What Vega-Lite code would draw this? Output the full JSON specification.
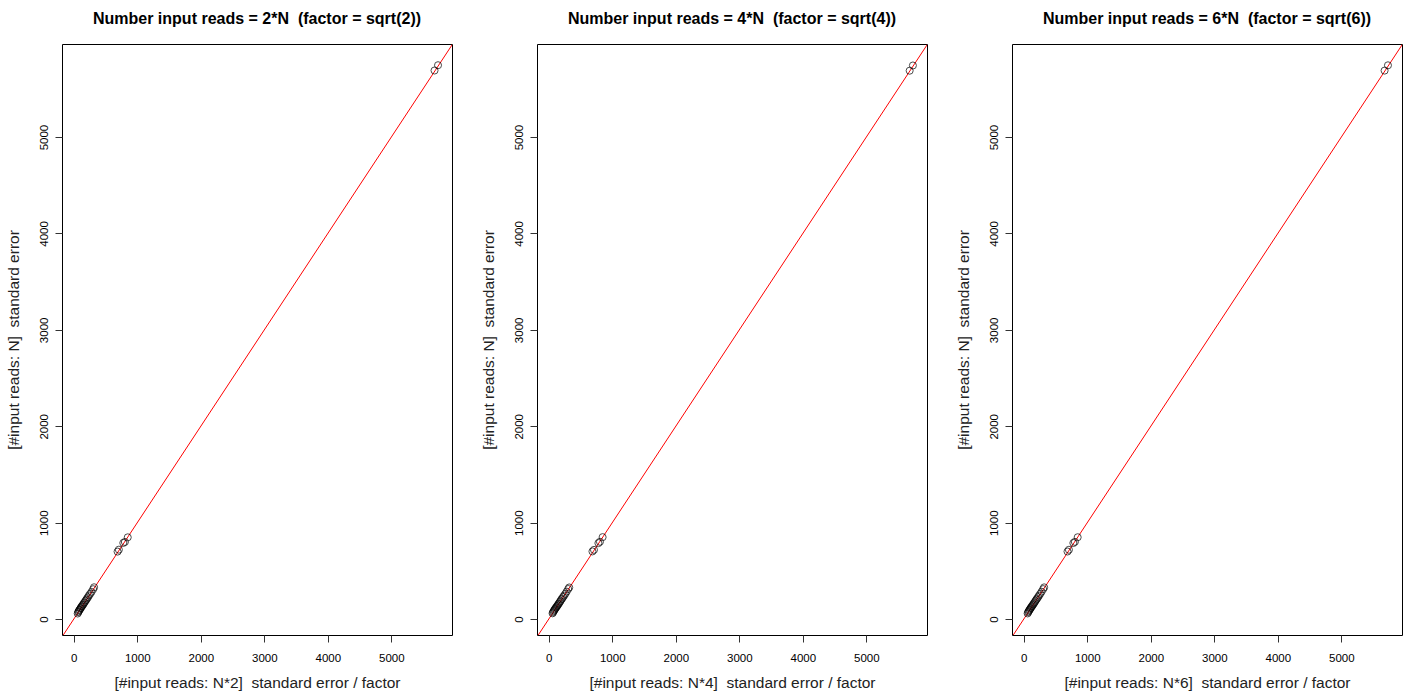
{
  "$schema": "https://vega.github.io/schema/vega-lite/v6.json",
  "padding": {"left": 5, "top": 10, "right": 5, "bottom": 5},
  "background": "white",
  "spacing": 27,
  "config": {
    "view": {"stroke": "black", "strokeWidth": 1},
    "font": "Liberation Sans",
    "axis": {
      "grid": false, "domain": false, "tickColor": "#333", "tickSize": 7, "tickWidth": 1,
      "labelFont": "Liberation Sans", "labelFontSize": 11.5, "labelColor": "#000",
      "titleFont": "Liberation Sans", "titleFontSize": 15.5, "titleFontWeight": "normal", "titleColor": "#222",
      "labelPadding": 10, "titlePadding": 12
    },
    "axisY": {"labelAngle": 270, "labelAlign": "center", "labelBaseline": "bottom", "labelPadding": 6, "titlePadding": 17},
    "title": {"font": "Liberation Sans", "fontSize": 16, "fontWeight": "bold", "color": "#000", "offset": 17}
  },
  "datasets": {
    "p2": [
      {"x": 62, "y": 58}, {"x": 70, "y": 72}, {"x": 78, "y": 80}, {"x": 85, "y": 92}, {"x": 95, "y": 98},
      {"x": 104, "y": 110}, {"x": 112, "y": 115}, {"x": 120, "y": 128}, {"x": 130, "y": 134}, {"x": 140, "y": 146},
      {"x": 150, "y": 152}, {"x": 160, "y": 166}, {"x": 172, "y": 175}, {"x": 185, "y": 190}, {"x": 198, "y": 200},
      {"x": 210, "y": 215}, {"x": 225, "y": 228}, {"x": 240, "y": 245}, {"x": 258, "y": 262}, {"x": 280, "y": 282},
      {"x": 305, "y": 310}, {"x": 320, "y": 330},
      {"x": 690, "y": 700}, {"x": 710, "y": 720}, {"x": 780, "y": 790}, {"x": 805, "y": 800}, {"x": 850, "y": 848},
      {"x": 5680, "y": 5690}, {"x": 5735, "y": 5745}
    ],
    "p4": [
      {"x": 60, "y": 60}, {"x": 68, "y": 70}, {"x": 76, "y": 82}, {"x": 86, "y": 90}, {"x": 94, "y": 100},
      {"x": 102, "y": 108}, {"x": 112, "y": 118}, {"x": 122, "y": 126}, {"x": 132, "y": 136}, {"x": 142, "y": 144},
      {"x": 152, "y": 156}, {"x": 162, "y": 164}, {"x": 174, "y": 178}, {"x": 186, "y": 188}, {"x": 198, "y": 204},
      {"x": 212, "y": 214}, {"x": 226, "y": 230}, {"x": 242, "y": 244}, {"x": 260, "y": 262}, {"x": 282, "y": 285},
      {"x": 306, "y": 312}, {"x": 322, "y": 328},
      {"x": 688, "y": 702}, {"x": 712, "y": 718}, {"x": 782, "y": 788}, {"x": 806, "y": 802}, {"x": 848, "y": 850},
      {"x": 5682, "y": 5688}, {"x": 5733, "y": 5742}
    ],
    "p6": [
      {"x": 61, "y": 59}, {"x": 69, "y": 71}, {"x": 77, "y": 81}, {"x": 86, "y": 91}, {"x": 95, "y": 99},
      {"x": 103, "y": 109}, {"x": 112, "y": 116}, {"x": 121, "y": 127}, {"x": 131, "y": 135}, {"x": 141, "y": 145},
      {"x": 151, "y": 154}, {"x": 161, "y": 165}, {"x": 173, "y": 176}, {"x": 185, "y": 189}, {"x": 198, "y": 202},
      {"x": 211, "y": 214}, {"x": 226, "y": 229}, {"x": 241, "y": 244}, {"x": 259, "y": 262}, {"x": 281, "y": 284},
      {"x": 305, "y": 311}, {"x": 321, "y": 329},
      {"x": 689, "y": 701}, {"x": 711, "y": 719}, {"x": 781, "y": 789}, {"x": 805, "y": 801}, {"x": 849, "y": 849},
      {"x": 5681, "y": 5689}, {"x": 5734, "y": 5744}
    ],
    "diag": [{"x": -400, "y": -400}, {"x": 6200, "y": 6200}]
  },
  "hconcat": [
    {
      "title": "Number input reads = 2*N \u00a0(factor = sqrt(2))",
      "width": 390, "height": 591,
      "layer": [
        {
          "data": {"name": "diag"},
          "mark": {"type": "line", "color": "red", "strokeWidth": 1, "clip": true},
          "encoding": {
            "x": {"field": "x", "type": "quantitative", "scale": {"domain": [-185, 5955], "nice": false, "zero": false}, "axis": {"values": [0, 1000, 2000, 3000, 4000, 5000], "format": "d"}, "title": "[#input reads: N*2] \u00a0standard error / factor"},
            "y": {"field": "y", "type": "quantitative", "scale": {"domain": [-165, 5965], "nice": false, "zero": false}, "axis": {"values": [0, 1000, 2000, 3000, 4000, 5000], "format": "d"}, "title": "[#input reads: N] \u00a0standard error"}
          }
        },
        {
          "data": {"name": "p2"},
          "mark": {"type": "point", "shape": "circle", "filled": false, "stroke": "black", "strokeWidth": 1, "size": 50},
          "encoding": {
            "x": {"field": "x", "type": "quantitative"},
            "y": {"field": "y", "type": "quantitative"}
          }
        }
      ]
    },
    {
      "title": "Number input reads = 4*N \u00a0(factor = sqrt(4))",
      "width": 390, "height": 591,
      "layer": [
        {
          "data": {"name": "diag"},
          "mark": {"type": "line", "color": "red", "strokeWidth": 1, "clip": true},
          "encoding": {
            "x": {"field": "x", "type": "quantitative", "scale": {"domain": [-185, 5955], "nice": false, "zero": false}, "axis": {"values": [0, 1000, 2000, 3000, 4000, 5000], "format": "d"}, "title": "[#input reads: N*4] \u00a0standard error / factor"},
            "y": {"field": "y", "type": "quantitative", "scale": {"domain": [-165, 5965], "nice": false, "zero": false}, "axis": {"values": [0, 1000, 2000, 3000, 4000, 5000], "format": "d"}, "title": "[#input reads: N] \u00a0standard error"}
          }
        },
        {
          "data": {"name": "p4"},
          "mark": {"type": "point", "shape": "circle", "filled": false, "stroke": "black", "strokeWidth": 1, "size": 50},
          "encoding": {
            "x": {"field": "x", "type": "quantitative"},
            "y": {"field": "y", "type": "quantitative"}
          }
        }
      ]
    },
    {
      "title": "Number input reads = 6*N \u00a0(factor = sqrt(6))",
      "width": 390, "height": 591,
      "layer": [
        {
          "data": {"name": "diag"},
          "mark": {"type": "line", "color": "red", "strokeWidth": 1, "clip": true},
          "encoding": {
            "x": {"field": "x", "type": "quantitative", "scale": {"domain": [-185, 5955], "nice": false, "zero": false}, "axis": {"values": [0, 1000, 2000, 3000, 4000, 5000], "format": "d"}, "title": "[#input reads: N*6] \u00a0standard error / factor"},
            "y": {"field": "y", "type": "quantitative", "scale": {"domain": [-165, 5965], "nice": false, "zero": false}, "axis": {"values": [0, 1000, 2000, 3000, 4000, 5000], "format": "d"}, "title": "[#input reads: N] \u00a0standard error"}
          }
        },
        {
          "data": {"name": "p6"},
          "mark": {"type": "point", "shape": "circle", "filled": false, "stroke": "black", "strokeWidth": 1, "size": 50},
          "encoding": {
            "x": {"field": "x", "type": "quantitative"},
            "y": {"field": "y", "type": "quantitative"}
          }
        }
      ]
    }
  ]
}
